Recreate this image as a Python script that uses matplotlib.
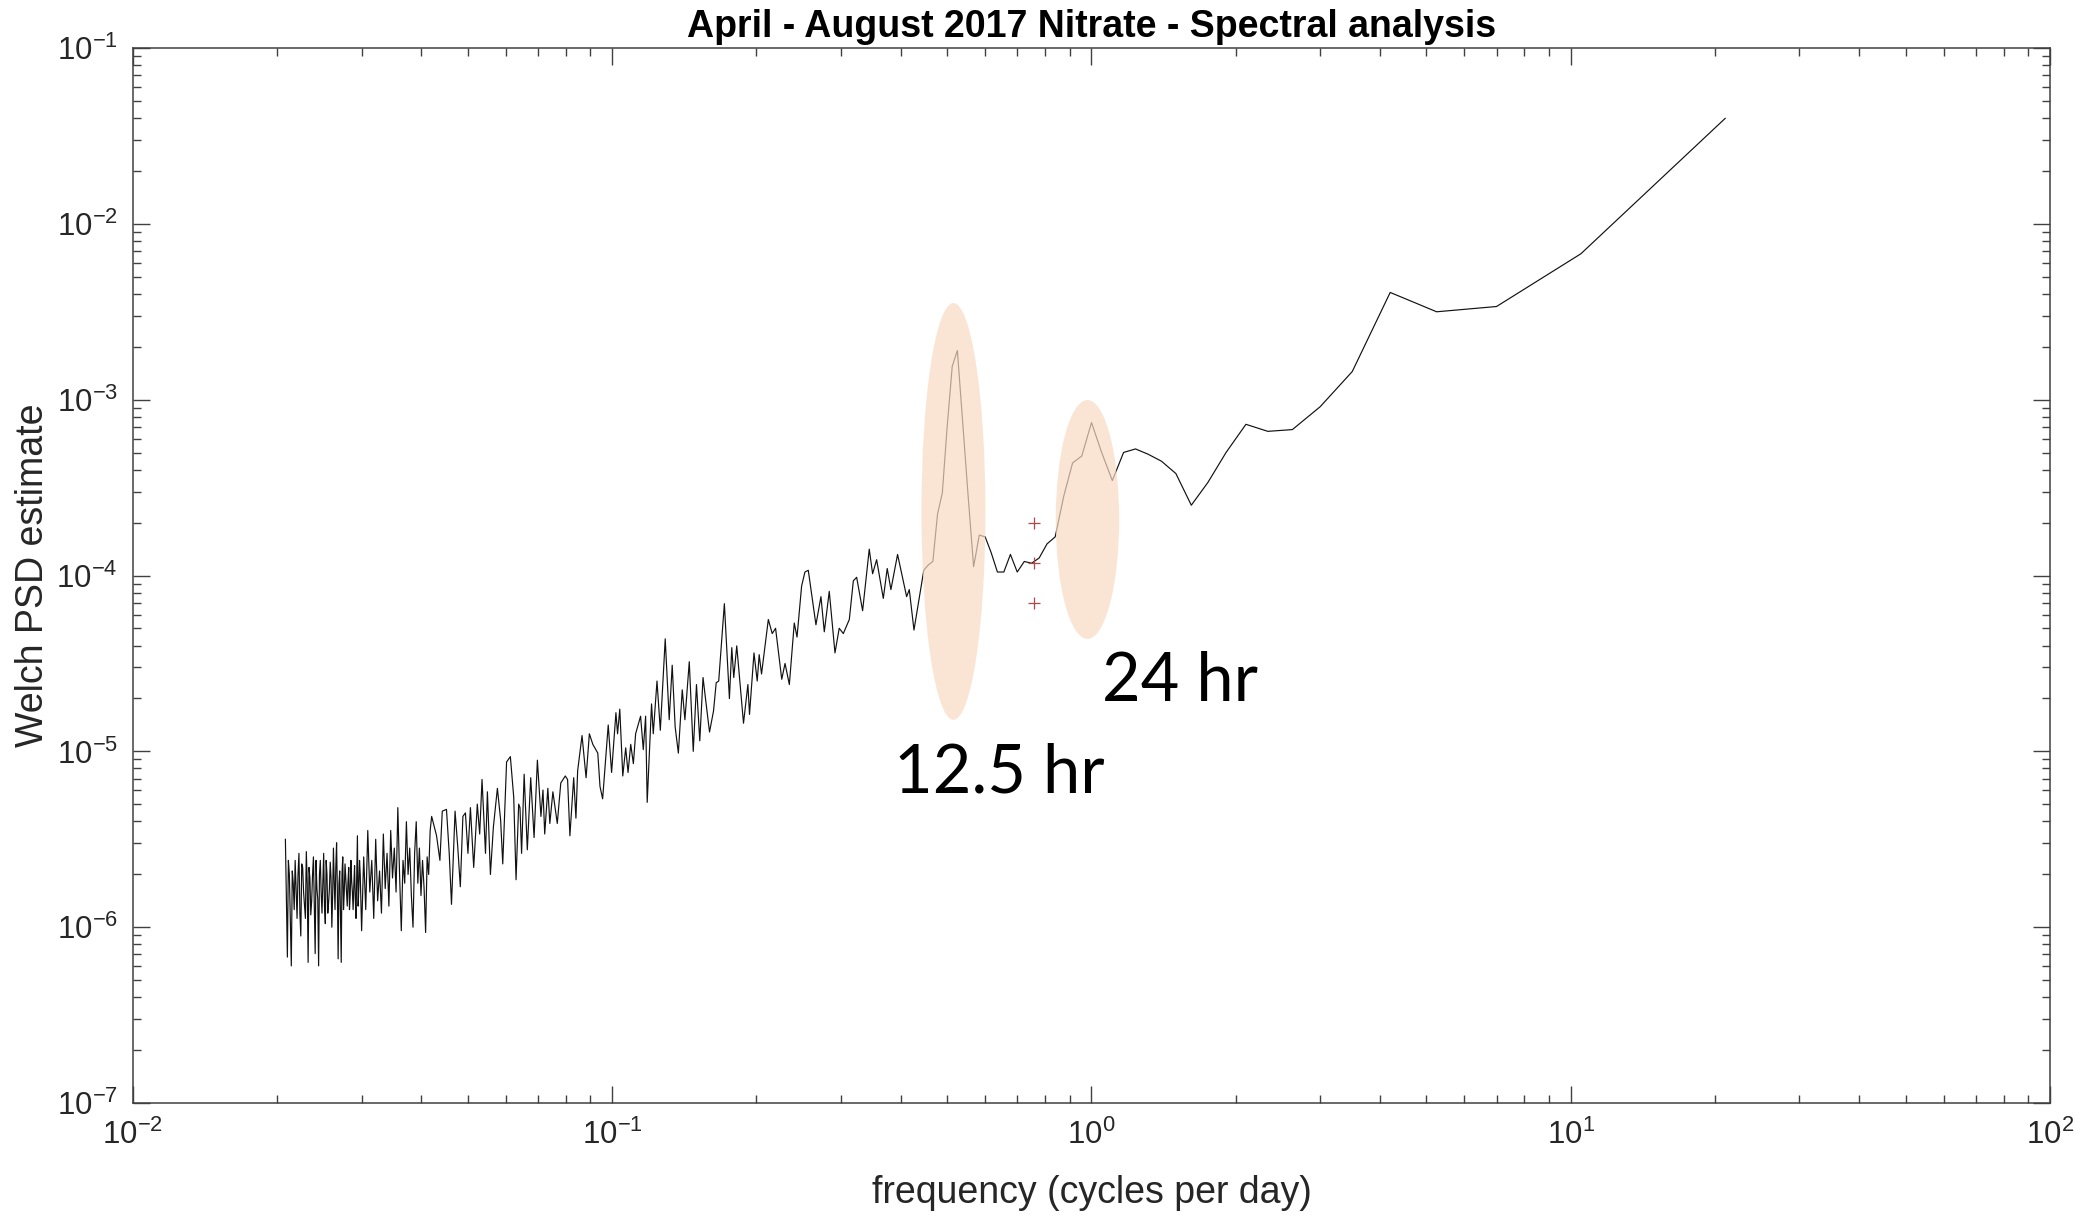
import numpy as np
import matplotlib.pyplot as plt
from matplotlib.patches import Ellipse
from matplotlib.ticker import LogLocator, NullFormatter

plt.rcParams['font.family'] = ['Liberation Sans', 'DejaVu Sans']
plt.rcParams['mathtext.fontset'] = 'custom'
plt.rcParams['mathtext.rm'] = 'Liberation Sans'
plt.rcParams['mathtext.it'] = 'Liberation Sans:italic'
plt.rcParams['mathtext.bf'] = 'Liberation Sans:bold'
plt.rcParams['mathtext.default'] = 'regular'

# espectro: frecuencia (ciclos/dia) y log10 de la PSD
freq_low = [
    0.0208, 0.0210, 0.0212, 0.0214, 0.0216, 0.0218, 0.0220, 0.0222, 0.0224, 0.0226,
    0.0228, 0.0230, 0.0232, 0.0234, 0.0236, 0.0238, 0.0240, 0.0242, 0.0244, 0.0246,
    0.0248, 0.0250, 0.0252, 0.0254, 0.0256, 0.0258, 0.0260, 0.0262, 0.0264, 0.0266,
    0.0268, 0.0270, 0.0272, 0.0274, 0.0276, 0.0278, 0.0280, 0.0282, 0.0284, 0.0286,
    0.0288, 0.0290, 0.0292, 0.0294, 0.0296, 0.0298, 0.0300,
    0.0303, 0.0306, 0.0309, 0.0312, 0.0315, 0.0318, 0.0321, 0.0324, 0.0327, 0.0330,
    0.0333, 0.0336, 0.0339, 0.0342, 0.0345, 0.0348, 0.0351, 0.0354, 0.0357, 0.0360,
    0.0363, 0.0366, 0.0369, 0.0372, 0.0375, 0.0378, 0.0381, 0.0384, 0.0387, 0.0390,
    0.0393, 0.0396, 0.0399, 0.0402, 0.0405, 0.0408, 0.0411, 0.0414, 0.0417, 0.0420,
    0.0430, 0.0437, 0.0442, 0.0451, 0.0457, 0.0462, 0.0470, 0.0476, 0.0482, 0.0488,
    0.0494, 0.0500, 0.0506, 0.0514, 0.0523, 0.0529, 0.0535, 0.0544, 0.0549, 0.0557,
    0.0565, 0.0576, 0.0585, 0.0591, 0.0602, 0.0613, 0.0623, 0.0630, 0.0638,
]
logpsd_low = [
    -5.50, -6.17, -5.70, -6.22, -5.75, -5.62, -5.95, -5.58, -6.05, -5.66,
    -5.88, -5.57, -6.20, -5.72, -5.85, -5.60, -6.15, -5.78, -6.22, -5.62,
    -5.92, -5.58, -5.98, -5.70, -5.86, -5.63, -6.00, -5.55, -5.90, -5.52,
    -6.18, -5.68, -6.20, -5.60, -5.80, -5.72, -5.88, -5.66, -5.82, -5.74,
    -5.90, -5.65, -5.95, -5.48, -5.78, -5.70, -6.02,
    -5.60, -5.90, -5.45, -5.80, -5.62, -5.95, -5.50, -5.85, -5.68, -5.92,
    -5.47, -5.78, -5.58, -5.88, -5.45, -5.72, -5.55, -5.80, -5.32, -5.70,
    -6.02, -5.62, -5.75, -5.40, -5.70, -5.55, -5.82, -6.00, -5.58, -5.40,
    -5.75, -5.55, -5.82, -5.62, -5.78, -6.03, -5.60, -5.70, -5.45, -5.37,
    -5.48, -5.62, -5.34, -5.33, -5.58, -5.87, -5.34, -5.54, -5.77, -5.37,
    -5.35, -5.58, -5.32, -5.66, -5.30, -5.47, -5.16, -5.58, -5.23, -5.70,
    -5.43, -5.21, -5.39, -5.64, -5.06, -5.03, -5.26, -5.73, -5.30,
]

# puntos intermedios del tramo mas denso (banda negra al inicio)
freq_dense = [
    0.0209, 0.0211, 0.0213, 0.0215, 0.0217, 0.0219, 0.0221, 0.0223, 0.0225, 0.0227,
    0.0229, 0.0231, 0.0233, 0.0235, 0.0237, 0.0239, 0.0241, 0.0243, 0.0245, 0.0247,
    0.0249, 0.0251, 0.0253, 0.0255, 0.0257, 0.0259, 0.0261, 0.0263, 0.0265, 0.0267,
    0.0269, 0.0271, 0.0273, 0.0275, 0.0277, 0.0279, 0.0281, 0.0283, 0.0285, 0.0287,
    0.0289, 0.0291, 0.0293, 0.0295, 0.0297, 0.0299,
]
logpsd_dense = [
    -5.85, -5.62, -5.95, -5.68, -5.90, -5.78, -5.70, -5.92, -5.64, -5.80,
    -5.95, -5.75, -5.66, -5.93, -5.70, -5.88, -5.62, -5.84, -5.70, -5.80,
    -5.74, -5.88, -5.62, -5.92, -5.78, -5.72, -5.82, -5.74, -5.66, -5.80,
    -5.76, -5.92, -5.70, -5.90, -5.64, -5.80, -5.74, -5.90, -5.62, -5.80,
    -5.76, -5.84, -5.70, -5.88, -5.62, -5.85,
]

freq_mid = [
    0.0642, 0.0647, 0.0655, 0.0665, 0.0676, 0.0687, 0.0698, 0.0710, 0.0717, 0.0723,
    0.0734, 0.0741, 0.0752, 0.0768, 0.0781, 0.0798, 0.0807, 0.0816, 0.0831, 0.0840,
    0.0847, 0.0865, 0.0882, 0.0896, 0.0911, 0.0933, 0.0943, 0.0955, 0.0981, 0.0997,
    0.1018, 0.1026, 0.1037, 0.1052, 0.1067, 0.1079, 0.1093, 0.1107, 0.1119, 0.1146,
    0.1161, 0.1174, 0.1183, 0.1208, 0.1218, 0.1240, 0.1260, 0.1290, 0.1315, 0.1334,
    0.1353, 0.1374, 0.1400, 0.1418, 0.1448, 0.1476, 0.1499, 0.1523, 0.1547, 0.1567,
    0.1596, 0.1627, 0.1648, 0.1668, 0.1714, 0.1756, 0.1776, 0.1793, 0.1819, 0.1879,
    0.1919, 0.1934, 0.1976, 0.2007, 0.2026, 0.2049, 0.2117, 0.2157, 0.2192, 0.2258,
    0.2294, 0.2342, 0.2398, 0.2430, 0.2484, 0.2524, 0.2565, 0.2661, 0.2726, 0.2770,
    0.2837, 0.2916, 0.2976, 0.3035, 0.3124, 0.3185, 0.3236, 0.3330, 0.3438, 0.3494,
    0.3562, 0.3678, 0.3748, 0.3815, 0.3939, 0.4114, 0.4167, 0.4262,
]
logpsd_mid = [
    -5.32, -5.58, -5.13, -5.56, -5.15, -5.49, -5.05, -5.37, -5.22, -5.47,
    -5.21, -5.41, -5.23, -5.41, -5.18, -5.14, -5.16, -5.48, -5.15, -5.38,
    -5.11, -4.91, -5.15, -4.90, -4.96, -5.01, -5.20, -5.27, -4.85, -5.12,
    -4.78, -4.90, -4.76, -5.14, -4.98, -5.12, -4.96, -5.07, -4.90, -4.80,
    -4.99, -4.80, -5.29, -4.73, -4.90, -4.60, -4.88, -4.36, -4.82, -4.51,
    -4.86, -5.01, -4.65, -4.82, -4.49, -5.00, -4.62, -4.94, -4.58, -4.71,
    -4.89, -4.77, -4.61, -4.60, -4.16, -4.70, -4.41, -4.58, -4.40, -4.84,
    -4.62, -4.79, -4.44, -4.60, -4.45, -4.56, -4.25, -4.33, -4.30, -4.59,
    -4.50, -4.62, -4.27, -4.35, -4.06, -3.98, -3.97, -4.28, -4.12, -4.32,
    -4.09, -4.44, -4.30, -4.33, -4.25, -4.03, -4.01, -4.20, -3.85, -3.99,
    -3.91, -4.13, -3.96, -4.08, -3.88, -4.12, -4.08, -4.31,
]

freq_high = [
    0.4468, 0.4565, 0.4667, 0.4773, 0.4884, 0.5000, 0.5122, 0.5250, 0.5385, 0.5526,
    0.5676, 0.5833, 0.6000, 0.6176, 0.6364, 0.6563, 0.6774, 0.7000, 0.7241, 0.7500,
    0.7778, 0.8077, 0.8400, 0.8750, 0.9130, 0.9545, 1.0000, 1.0500, 1.1053, 1.1667,
    1.2353, 1.3125, 1.4000, 1.5000, 1.6154, 1.7500, 1.9091, 2.1000, 2.3333, 2.6250,
    3.0000, 3.5000, 4.2000, 5.2500, 7.0000, 10.500, 21.000,
]
logpsd_high = [
    -3.97, -3.94, -3.92, -3.65, -3.53, -3.15, -2.81, -2.72, -3.13, -3.54,
    -3.95, -3.77, -3.78, -3.87, -3.98, -3.98, -3.88, -3.98, -3.92, -3.93,
    -3.90, -3.82, -3.78, -3.55, -3.36, -3.32, -3.13, -3.30, -3.46, -3.30,
    -3.28, -3.31, -3.35, -3.42, -3.60, -3.47, -3.30, -3.14, -3.18, -3.17,
    -3.04, -2.84, -2.39, -2.50, -2.47, -2.17, -1.40,
]

# intervalo de confianza (cruces rojas)
ci_freq = [0.758, 0.758, 0.758]
ci_psd = [2.0e-4, 1.18e-4, 7.0e-5]

freq = np.concatenate([freq_low, freq_dense, freq_mid, freq_high])
psd = 10 ** np.concatenate([logpsd_low, logpsd_dense, logpsd_mid, logpsd_high])
orden = np.argsort(freq)
freq, psd = freq[orden], psd[orden]

fig = plt.figure(figsize=(20.97, 12.16), dpi=100)
ax = fig.add_axes([0.0634, 0.0929, 0.9142, 0.8676])

ax.plot(freq, psd, color='#111111', lw=0.85, zorder=2)
ax.plot(ci_freq, ci_psd, '+', color='#b04848', ms=8, mew=0.9, zorder=4)

ax.set_xscale('log')
ax.set_yscale('log')
ax.set_xlim(1e-2, 1e2)
ax.set_ylim(1e-7, 1e-1)

for axis in (ax.xaxis, ax.yaxis):
    axis.set_major_locator(LogLocator(base=10, numticks=20))
    axis.set_minor_locator(LogLocator(base=10, subs=np.arange(2, 10), numticks=100))
    axis.set_minor_formatter(NullFormatter())

ax.tick_params(which='both', direction='in', top=True, right=True,
               color='#404040', labelcolor='#262626', labelsize=22.5)
ax.tick_params(which='major', length=12, width=1.0)
ax.tick_params(which='minor', length=6, width=1.0)
ax.tick_params(axis='x', which='major', pad=12)
ax.tick_params(axis='y', which='major', pad=11)
for s in ax.spines.values():
    s.set_color('#404040')
    s.set_linewidth(1.1)

# elipses que marcan los picos
peach = (249 / 255, 218 / 255, 196 / 255)
ax.add_patch(Ellipse((0.428, 0.5607), 0.0334, 0.395, transform=ax.transAxes,
                     facecolor=peach, edgecolor='none', alpha=0.7, zorder=3))
ax.add_patch(Ellipse((0.4979, 0.5531), 0.0331, 0.2265, transform=ax.transAxes,
                     facecolor=peach, edgecolor='none', alpha=0.7, zorder=3))

ax.text(0.4517, 0.2948, '12.5 hr', transform=ax.transAxes, fontsize=48,
        family=['Lato', 'DejaVu Sans'], ha='center', va='baseline')
ax.text(0.5462, 0.381, '24 hr', transform=ax.transAxes, fontsize=48,
        family=['Lato', 'DejaVu Sans'], ha='center', va='baseline')

ax.set_title('April - August 2017 Nitrate - Spectral analysis', fontsize=27,
             fontweight='bold', pad=8)
ax.set_xlabel('frequency (cycles per day)', fontsize=27, color='#262626', labelpad=17)
ax.set_ylabel('Welch PSD estimate', fontsize=27, color='#262626', labelpad=4)

fig.savefig('out.png', dpi=100)
